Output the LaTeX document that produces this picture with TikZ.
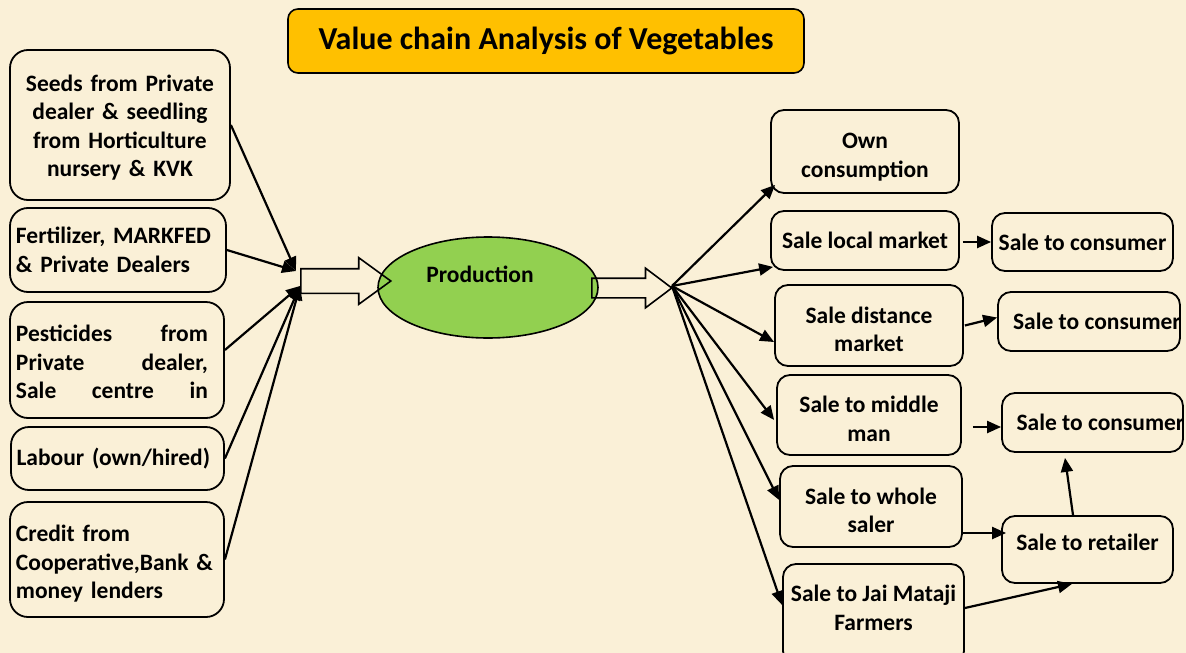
\documentclass[tikz,border=0pt]{standalone}
\usepackage{fontspec}
\setmainfont{Carlito}
\usetikzlibrary{shapes.geometric,shapes.arrows,arrows.meta}
\definecolor{bgcream}{RGB}{250,240,215}
\definecolor{titlegold}{RGB}{255,192,0}
\definecolor{prodgreen}{RGB}{146,208,80}

\begin{document}
\begin{tikzpicture}[x=1pt,y=-1pt,
  txt/.style={font=\bfseries\fontsize{23.5}{28.5}\selectfont},
  inbox/.style={txt,draw,line width=1.8pt,rounded corners=18pt,inner sep=0pt},
  outbox/.style={txt,draw,line width=1.8pt,rounded corners=13pt,inner sep=0pt,align=center},
  link/.style={line width=2.2pt,-{Triangle[length=14pt,width=12pt]}},
  bigarrow/.style={single arrow,draw,line width=1.6pt,inner xsep=0pt,single arrow head indent=0pt},
  cutbox/.style={outbox,path picture={\node[txt,anchor=west,inner sep=0pt] at ([xshift=7pt]path picture bounding box.west) {#1};}}]
  \fill[bgcream] (0,0) rectangle (1186,653);
  \useasboundingbox (0,0) rectangle (1186,653);

  \node [draw,fill=titlegold,rounded corners=10pt,line width=1.6pt,minimum width=516,minimum height=64,
    font=\bfseries\fontsize{32}{38}\selectfont] (t) at (546,41) {Value chain Analysis of Vegetables};

  \node [inbox,minimum width=220,minimum height=150,text width=210,align=center,text height=22pt] (a1) at (120,125)
    {Seeds from Private\\dealer \& seedling\\from Horticulture\\nursery \& KVK};
  \node [inbox,minimum width=216,minimum height=84,text width=204,align=left] (a2) at (118,250)
    {Fertilizer, MARKFED\\\& Private Dealers};
  \node [inbox,minimum width=214,minimum height=116,text width=202,align=left,text height=21pt] (a3) at (117,360)
    {Pesticides\hfill from\hspace*{10pt}\mbox{}\\Private\hfill dealer,\hspace*{10pt}\mbox{}\\Sale\hfill centre\hfill in\hspace*{10pt}\mbox{}};
  \node [inbox,minimum width=213,minimum height=63,text width=202,align=left] (a4) at (117.5,458.5)
    {Labour (own/hired)};
  \node [inbox,minimum width=214,minimum height=115,text width=202,align=left,text height=25pt] (a5) at (117,559.5)
    {Credit from\\Cooperative,Bank \&\\money lenders};

  \coordinate (g1) at (296,271);
  \coordinate (g2) at (300,286);
  \coordinate (f) at (672,286);

  \node [ellipse,draw,fill=prodgreen,line width=1.6pt,minimum width=220,minimum height=101,inner sep=0pt,
    txt,text depth=27pt] (b1) at (488,287.5) {Production\hspace*{16pt}};

  \node [bigarrow,anchor=tail,minimum height=90,inner ysep=11.5pt,single arrow head extend=11pt,
    single arrow tip angle=72] (e1) at (300,281) {};
  \node [bigarrow,anchor=tail,minimum height=80,inner ysep=9pt,single arrow head extend=10pt,
    single arrow tip angle=74] (e2) at (591,288) {};

  \node [outbox,minimum width=188,minimum height=83,text height=55pt] (c1) at (865,151.5) {Own\\consumption};
  \node [outbox,minimum width=188,minimum height=59] (c2) at (865,240.5) {Sale local market};
  \node [outbox,minimum width=188,minimum height=81,text height=53pt] (c3) at (869,325.5) {Sale distance\\market};
  \node [outbox,minimum width=184,minimum height=80,text height=53pt] (c4) at (869,415) {Sale to middle\\man};
  \node [outbox,minimum width=182,minimum height=81,text height=53pt] (c5) at (871,506.5) {Sale to whole\\saler};
  \node [outbox,minimum width=181,minimum height=100,text height=52pt,text depth=20pt] (c6) at (873.5,614) {Sale to Jai Mataji\\Farmers};

  \node [outbox,minimum width=181,minimum height=58] (d1) at (1082.5,242) {Sale to consumer};
  \node [cutbox=Sale to consumer,minimum width=182,minimum height=59] (d2) at (1089,321.5) {};
  \node [cutbox=Sale to consumer,minimum width=181,minimum height=59] (d3) at (1092.5,422.5) {};
  \node [outbox,minimum width=171,minimum height=67,text depth=14pt] (d4) at (1087.5,549.5) {Sale to retailer};

  \draw [link] (a1.east) -- (g1);
  \draw [link] (a2.east) -- (g1);
  \draw [link] ([yshift=10pt]a3.east) -- (g2);
  \draw [link] (a4.east) -- (g2);
  \draw [link] (a5.east) -- (g2);

  \draw [link] (f) -- ([xshift=5pt,yshift=9pt]c1.south west);
  \draw [link] (f) -- ([xshift=3pt,yshift=4pt]c2.south west);
  \draw [link] (f) -- ([yshift=-16.5pt]c3.west);
  \draw [link] (f) -- ([xshift=-2pt,yshift=-5pt]c4.west);
  \draw [link] (f) -- ([yshift=6.5pt]c5.west);
  \draw [link] (f) -- ([yshift=9pt]c6.west);

  \draw [link] ([xshift=3pt,yshift=-1.5pt]c2.east) -- (d1.west);
  \draw [link] ([xshift=1pt]c3.east) -- ([yshift=4pt]d2.west);
  \draw [link] ([xshift=11pt,yshift=-12pt]c4.east) -- ([yshift=-4.5pt]d3.west);
  \draw [link] ([yshift=-26.5pt]c5.east) -- ([xshift=5pt,yshift=16.5pt]d4.west);
  \draw [link] ([yshift=6pt]c6.east) -- ([xshift=-15.5pt]d4.south);
  \draw [link] ([xshift=-14.5pt]d4.north) -- ([xshift=-27.5pt,yshift=-5pt]d3.south);
\end{tikzpicture}
\end{document}
